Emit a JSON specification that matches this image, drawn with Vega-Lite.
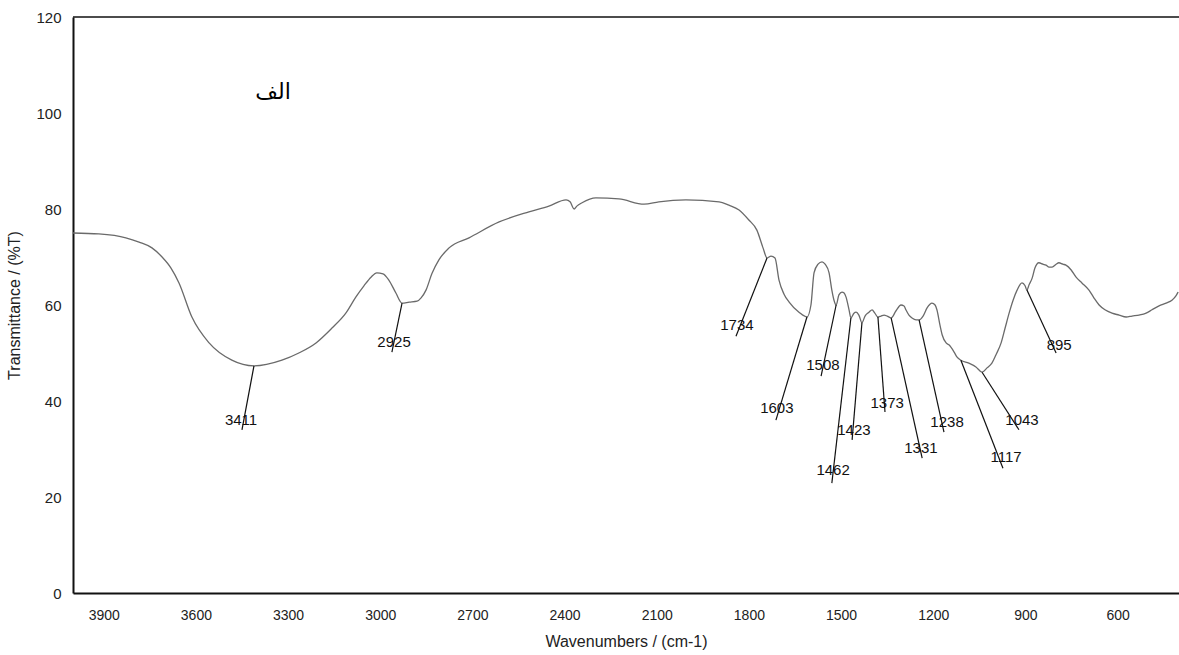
{
  "$schema": "https://vega.github.io/schema/vega-lite/v6.json",
  "autosize": {"type": "none"},
  "padding": {"left": 73, "top": 17, "right": 0, "bottom": 62},
  "width": 1106,
  "height": 576,
  "background": "white",
  "config": {
    "view": {"stroke": null},
    "font": "Liberation Sans",
    "axis": {"grid": false, "ticks": false, "domainColor": "#111", "domainWidth": 2, "labelColor": "#222", "titleColor": "#222", "titleFontSize": 16, "titleFontWeight": "normal", "labelFont": "Liberation Sans", "titleFont": "Liberation Sans"}
  },
  "datasets": {
    "spectrum": [
      {"w":4000,"T":75.0},{"w":3916,"T":74.8},{"w":3828,"T":74.0},{"w":3785,"T":73.1},{"w":3743,"T":71.9},{"w":3710,"T":70.0},{"w":3681,"T":67.7},{"w":3655,"T":64.6},{"w":3613,"T":57.5},{"w":3557,"T":52.1},{"w":3483,"T":48.5},{"w":3411,"T":47.3},{"w":3320,"T":48.5},{"w":3265,"T":50.0},{"w":3209,"T":52.1},{"w":3157,"T":55.2},{"w":3112,"T":58.3},{"w":3079,"T":61.7},{"w":3053,"T":64.0},{"w":3030,"T":65.8},{"w":3011,"T":66.7},{"w":2991,"T":66.5},{"w":2972,"T":65.2},{"w":2949,"T":62.5},{"w":2929,"T":60.4},{"w":2906,"T":60.6},{"w":2880,"T":60.8},{"w":2867,"T":61.5},{"w":2851,"T":63.1},{"w":2832,"T":66.5},{"w":2809,"T":69.4},{"w":2776,"T":71.9},{"w":2711,"T":74.0},{"w":2613,"T":77.3},{"w":2516,"T":79.4},{"w":2451,"T":80.6},{"w":2395,"T":81.9},{"w":2382,"T":81.5},{"w":2369,"T":80.0},{"w":2360,"T":80.6},{"w":2343,"T":81.3},{"w":2298,"T":82.3},{"w":2223,"T":82.1},{"w":2141,"T":81.0},{"w":2093,"T":81.5},{"w":2005,"T":81.9},{"w":1897,"T":81.5},{"w":1865,"T":80.8},{"w":1832,"T":79.8},{"w":1800,"T":77.7},{"w":1774,"T":75.6},{"w":1754,"T":71.9},{"w":1741,"T":69.8},{"w":1728,"T":70.2},{"w":1715,"T":69.8},{"w":1702,"T":65.2},{"w":1686,"T":62.3},{"w":1669,"T":60.6},{"w":1637,"T":58.5},{"w":1611,"T":57.5},{"w":1598,"T":60.0},{"w":1588,"T":66.7},{"w":1575,"T":68.5},{"w":1562,"T":69.0},{"w":1552,"T":68.5},{"w":1539,"T":66.7},{"w":1530,"T":63.1},{"w":1523,"T":61.0},{"w":1516,"T":60.0},{"w":1507,"T":62.1},{"w":1497,"T":62.7},{"w":1490,"T":62.5},{"w":1484,"T":61.7},{"w":1474,"T":59.0},{"w":1468,"T":57.3},{"w":1458,"T":58.3},{"w":1451,"T":58.5},{"w":1442,"T":57.9},{"w":1432,"T":56.3},{"w":1422,"T":57.7},{"w":1409,"T":58.5},{"w":1399,"T":59.0},{"w":1390,"T":58.3},{"w":1380,"T":57.5},{"w":1370,"T":57.7},{"w":1360,"T":57.9},{"w":1350,"T":57.7},{"w":1337,"T":57.3},{"w":1321,"T":58.8},{"w":1305,"T":60.0},{"w":1295,"T":59.8},{"w":1289,"T":59.0},{"w":1279,"T":57.9},{"w":1269,"T":57.3},{"w":1256,"T":56.9},{"w":1246,"T":56.9},{"w":1233,"T":57.7},{"w":1220,"T":59.4},{"w":1204,"T":60.4},{"w":1194,"T":60.0},{"w":1188,"T":59.0},{"w":1178,"T":55.8},{"w":1171,"T":53.8},{"w":1158,"T":52.1},{"w":1149,"T":51.7},{"w":1132,"T":50.2},{"w":1123,"T":49.2},{"w":1110,"T":48.5},{"w":1084,"T":47.9},{"w":1061,"T":47.1},{"w":1041,"T":46.0},{"w":1025,"T":46.9},{"w":1009,"T":47.9},{"w":996,"T":49.6},{"w":979,"T":52.1},{"w":966,"T":55.2},{"w":953,"T":58.3},{"w":940,"T":61.0},{"w":927,"T":63.1},{"w":911,"T":64.6},{"w":901,"T":64.0},{"w":895,"T":63.1},{"w":888,"T":64.2},{"w":878,"T":65.6},{"w":869,"T":67.7},{"w":856,"T":68.8},{"w":843,"T":68.5},{"w":833,"T":68.3},{"w":823,"T":67.9},{"w":813,"T":67.9},{"w":800,"T":68.5},{"w":791,"T":68.8},{"w":778,"T":68.5},{"w":768,"T":68.3},{"w":751,"T":67.3},{"w":735,"T":65.8},{"w":716,"T":64.6},{"w":693,"T":63.1},{"w":677,"T":61.5},{"w":660,"T":60.0},{"w":641,"T":59.0},{"w":618,"T":58.3},{"w":595,"T":57.9},{"w":572,"T":57.5},{"w":553,"T":57.7},{"w":530,"T":57.9},{"w":507,"T":58.3},{"w":488,"T":59.0},{"w":465,"T":59.8},{"w":442,"T":60.4},{"w":423,"T":61.0},{"w":410,"T":61.9},{"w":403,"T":62.7}
    ],
    "peaks": [
      {"label":"3411","w":3411,"T":47.3,"ew":3450,"eT":34.0,"tw":3453,"tT":36.0},
      {"label":"2925","w":2929,"T":60.4,"ew":2962,"eT":50.2,"tw":2955,"tT":52.3},
      {"label":"1734","w":1741,"T":69.8,"ew":1842,"eT":53.5,"tw":1839,"tT":55.8},
      {"label":"1603","w":1611,"T":57.5,"ew":1712,"eT":36.0,"tw":1709,"tT":38.5},
      {"label":"1508","w":1516,"T":60.0,"ew":1565,"eT":45.2,"tw":1559,"tT":47.5},
      {"label":"1462","w":1468,"T":57.3,"ew":1530,"eT":22.9,"tw":1526,"tT":25.6},
      {"label":"1423","w":1432,"T":56.3,"ew":1464,"eT":31.9,"tw":1458,"tT":34.0},
      {"label":"1373","w":1380,"T":57.5,"ew":1357,"eT":37.7,"tw":1350,"tT":39.6},
      {"label":"1331","w":1337,"T":57.3,"ew":1236,"eT":28.1,"tw":1240,"tT":30.2},
      {"label":"1238","w":1246,"T":56.9,"ew":1165,"eT":33.5,"tw":1155,"tT":35.6},
      {"label":"1117","w":1110,"T":48.5,"ew":973,"eT":26.0,"tw":963,"tT":28.3},
      {"label":"1043","w":1041,"T":46.0,"ew":921,"eT":34.0,"tw":911,"tT":36.0},
      {"label":"895","w":895,"T":63.1,"ew":800,"eT":50.0,"tw":790,"tT":51.7}
    ],
    "note": [{"text":"الف","w":3349,"T":104.4}]
  },
  "encoding": {
    "x": {"field": "w", "type": "quantitative", "scale": {"domain": [400, 4000], "reverse": true, "nice": false, "zero": false},
      "axis": {"title": "Wavenumbers / (cm-1)", "values": [3900,3600,3300,3000,2700,2400,2100,1800,1500,1200,900,600], "format": "d", "labelFontSize": 14, "labelPadding": 15, "titlePadding": 11}},
    "y": {"field": "T", "type": "quantitative", "scale": {"domain": [0, 120], "nice": false, "zero": true},
      "axis": {"title": "Transmittance / (%T)", "values": [0,20,40,60,80,100,120], "labelFontSize": 15, "labelPadding": 12, "titlePadding": 13}}
  },
  "layer": [
    {"data": {"name": "spectrum"}, "mark": {"type": "line", "color": "#6a6a6a", "strokeWidth": 1.3, "interpolate": "monotone"}},
    {"data": {"name": "peaks"}, "mark": {"type": "rule", "color": "#111", "strokeWidth": 1.2},
      "encoding": {"x2": {"field": "ew"}, "y2": {"field": "eT"}}},
    {"data": {"name": "peaks"}, "mark": {"type": "text", "fontSize": 15, "color": "#111", "font": "Liberation Sans"},
      "encoding": {"x": {"field": "tw", "type": "quantitative"}, "y": {"field": "tT", "type": "quantitative"}, "text": {"field": "label"}}},
    {"data": {"name": "note"}, "mark": {"type": "text", "fontSize": 22, "color": "#000", "font": "DejaVu Sans"},
      "encoding": {"text": {"field": "text"}}},
    {"data": {"values": [{"T": 120}]}, "mark": {"type": "rule", "color": "#111", "strokeWidth": 1.5},
      "encoding": {"y": {"field": "T", "type": "quantitative"}, "x": {"value": 0}, "x2": {"value": 1106}}}
  ]
}
